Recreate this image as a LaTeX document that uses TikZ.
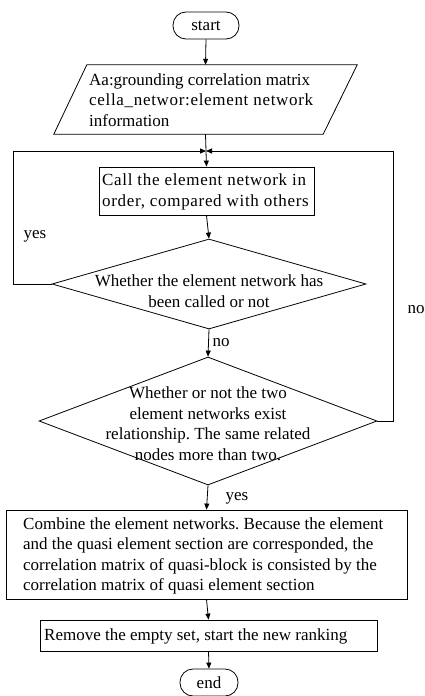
\documentclass[tikz,border=0pt]{standalone}
\usepackage{fontspec}
\setmainfont{Liberation Serif}
\newfontfamily\spacedfont{Liberation Serif}[LetterSpace=4]
\usetikzlibrary{arrows.meta,shapes.geometric,calc}
\frenchspacing
\begin{document}
\begin{tikzpicture}[x=1pt,y=-1pt,
  every node/.style={font=\fontsize{17}{20.5}\selectfont, inner sep=0pt},
  lw/.style={line width=0.8pt},
  term/.style={draw, lw, rectangle, rounded corners=13pt, minimum width=#1, minimum height=27pt},
  procbox/.style={draw, lw, rectangle},
  decision/.style={draw, lw, diamond, inner sep=0pt},
  txt/.style={anchor=west, align=left},
  ctxt/.style={align=center},
  arr/.style={lw, -{Triangle[length=6pt,width=5pt]}},
  conn/.style={lw}
]
\useasboundingbox (0,0) rectangle (425,696);

% nodes
\node[term=66pt] (start) at (206,25.5) {start};

\node[minimum width=303pt, minimum height=69pt] (inp) at (205.5,99.5) {};
\draw[lw] (inp.south west) -- ($(inp.south east)+(-34,0)$) -- (inp.north east) -- ($(inp.north west)+(33,0)$) -- cycle;
\node[txt] (inptext) at (89,100) {Aa:grounding correlation matrix\\{\spacedfont cella\_networ:element network}\\information};

\coordinate (m) at (206,151);
\coordinate (lc) at (13,151);
\coordinate (rc) at (393,151);

\node[procbox, minimum width=215pt, minimum height=48pt] (b1) at (206.5,191) {};
\node[txt] (b1text) at (102,192) {\spacedfont Call the element network in\\\spacedfont order, compared with others};

\node[decision, minimum width=314pt, minimum height=90pt] (d1) at (209,284) {};
\node[ctxt] (d1text) at (209,291) {Whether the element network has\\been called or not};

\node[decision, minimum width=338pt, minimum height=128pt] (d2) at (208,421) {};
\node[ctxt] (d2text) at (208,423.5) {Whether or not the two\\element networks exist\\relationship. The same related\\nodes more than two.};

\node[procbox, minimum width=401pt, minimum height=89pt] (b3) at (206.5,554.5) {};
\node[txt] (b3text) at (23,556) {Combine the element networks. Because the element\\and the quasi element section are corresponded, the\\correlation matrix of quasi-block is consisted by the\\correlation matrix of quasi element section};

\node[procbox, minimum width=337pt, minimum height=31pt] (b4) at (208.5,635.5) {};
\node[txt] (b4text) at (44,636.5) {Remove the empty set, start the new ranking};

\node[term=58pt] (end) at (209,682.5) {end};

% labels
\node (lyes1) at (35,236) {yes};
\node (lno1) at (221,343) {no};
\node (lyes2) at (237,498) {yes};
\node (lno2) at (416,310) {no};

% connectors
\draw[arr] (start.south) -- (inp.north);
\draw[conn] (inp.south) -- (m);
\draw[arr] (m) -- (b1.north);
\draw[arr] (b1.south) -- (d1.north);
\draw[arr] (d1.south) -- (d2.north);
\draw[arr] (d2.south) -- (b3.north);
\draw[arr] (b3.south) -- (b4.north);
\draw[arr] (b4.south) -- (end.north);
\draw[arr] (d1.west) -| (lc) -- (m);
\draw[arr] (d2.east) -| (rc) -- (m);
\end{tikzpicture}
\end{document}
